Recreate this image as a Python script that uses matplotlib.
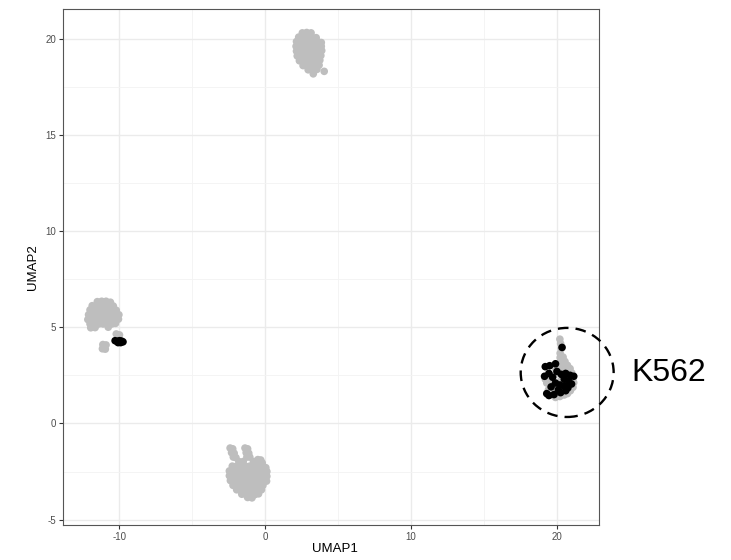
import matplotlib
matplotlib.use("Agg")
import matplotlib.pyplot as plt
from matplotlib.patches import Ellipse
from matplotlib.ticker import MultipleLocator

plt.rcParams['font.family'] = ['Liberation Sans', 'DejaVu Sans']
plt.rcParams['axes.unicode_minus'] = False

# ---- data ----
x_ticks = [-10, 0, 10, 20]
y_ticks = [-5, 0, 5, 10, 15, 20]
x_label = "UMAP1"
y_label = "UMAP2"
annot_label = "K562"

gray_top = [
    (2.55, 20.3), (2.85, 20.32), (3.15, 20.3),
    (2.3, 20.08), (2.6, 20.1), (2.9, 20.1), (3.2, 20.08), (3.5, 20.05),
    (2.15, 19.85), (2.45, 19.85), (2.75, 19.85), (3.05, 19.85), (3.35, 19.85), (3.65, 19.82), (3.85, 19.8),
    (2.12, 19.6), (2.35, 19.6), (2.65, 19.6), (2.95, 19.6), (3.25, 19.6), (3.55, 19.6), (3.85, 19.6),
    (2.15, 19.35), (2.45, 19.35), (2.75, 19.35), (3.05, 19.35), (3.35, 19.35), (3.65, 19.35), (3.88, 19.38),
    (2.2, 19.1), (2.4, 19.1), (2.7, 19.1), (3.0, 19.1), (3.3, 19.1), (3.6, 19.1), (3.82, 19.12),
    (2.35, 18.85), (2.6, 18.85), (2.9, 18.85), (3.2, 18.85), (3.5, 18.85), (3.75, 18.88),
    (2.6, 18.6), (2.85, 18.62), (3.15, 18.6), (3.45, 18.6), (3.7, 18.62),
    (2.95, 18.38), (3.25, 18.36), (3.55, 18.4),
    (3.3, 18.17),
    (4.05, 18.3),
]

gray_bottom = [
    (-2.4, -1.28), (-2.22, -1.32), (-2.3, -1.52), (-2.12, -1.55), (-2.18, -1.75), (-2.0, -1.78),
    (-1.38, -1.28), (-1.2, -1.32), (-1.3, -1.52), (-1.12, -1.55), (-1.25, -1.75), (-1.05, -1.75),
    (-0.5, -1.88), (-0.3, -1.9),
    (-1.8, -1.98), (-1.5, -1.98), (-0.8, -1.98), (-0.5, -2.05), (-0.2, -2.05),
    (-2.25, -2.22), (-1.95, -2.22), (-1.65, -2.22), (-1.35, -2.22), (-1.05, -2.22), (-0.75, -2.22), (-0.45, -2.25), (-0.15, -2.25), (0.05, -2.3),
    (-2.45, -2.47), (-2.2, -2.47), (-1.9, -2.47), (-1.6, -2.47), (-1.3, -2.47), (-1.0, -2.47), (-0.7, -2.47), (-0.4, -2.47), (-0.1, -2.47), (0.12, -2.5),
    (-2.45, -2.72), (-2.15, -2.72), (-1.85, -2.72), (-1.55, -2.72), (-1.25, -2.72), (-0.95, -2.72), (-0.65, -2.72), (-0.35, -2.72), (-0.05, -2.72), (0.12, -2.75),
    (-2.38, -2.97), (-2.1, -2.97), (-1.8, -2.97), (-1.5, -2.97), (-1.2, -2.97), (-0.9, -2.97), (-0.6, -2.97), (-0.3, -2.97), (0.0, -2.97), (0.1, -3.0),
    (-2.2, -3.22), (-1.95, -3.22), (-1.65, -3.22), (-1.35, -3.22), (-1.05, -3.22), (-0.75, -3.22), (-0.45, -3.22), (-0.15, -3.22),
    (-1.95, -3.45), (-1.7, -3.47), (-1.4, -3.47), (-1.1, -3.47), (-0.8, -3.47), (-0.5, -3.47), (-0.25, -3.45),
    (-1.6, -3.68), (-1.3, -3.7), (-1.0, -3.7), (-0.7, -3.7), (-0.45, -3.66),
    (-1.2, -3.85), (-0.9, -3.87),
]

gray_left = [
    (-11.5, 6.33), (-11.2, 6.35), (-10.9, 6.35), (-10.6, 6.3),
    (-11.85, 6.12), (-11.55, 6.12), (-11.25, 6.12), (-10.95, 6.12), (-10.65, 6.12), (-10.4, 6.1),
    (-12.0, 5.9), (-11.7, 5.9), (-11.4, 5.9), (-11.1, 5.9), (-10.8, 5.9), (-10.5, 5.9), (-10.2, 5.88),
    (-12.1, 5.65), (-11.8, 5.65), (-11.5, 5.65), (-11.2, 5.65), (-10.9, 5.65), (-10.6, 5.65), (-10.3, 5.65), (-10.02, 5.65),
    (-12.15, 5.4), (-11.85, 5.4), (-11.55, 5.4), (-11.25, 5.4), (-10.95, 5.4), (-10.65, 5.4), (-10.35, 5.4), (-10.05, 5.42),
    (-12.0, 5.17), (-11.7, 5.17), (-11.4, 5.17), (-11.1, 5.17), (-10.8, 5.17), (-10.5, 5.17), (-10.25, 5.2),
    (-11.95, 4.97), (-11.65, 4.98), (-10.75, 5.0),
    (-10.2, 4.65), (-9.98, 4.6),
    (-11.12, 4.1), (-10.9, 4.08), (-11.15, 3.88), (-10.95, 3.86),
]

gray_right = [
    (20.2, 4.38), (20.25, 4.15), (20.3, 3.9), (20.22, 3.65), (20.42, 3.45), (20.22, 3.42), (20.55, 3.22), (20.35, 3.2),
    (20.72, 3.02), (20.9, 2.85), (21.02, 2.62), (21.12, 2.38), (21.15, 2.12), (21.1, 1.88), (20.92, 1.7), (20.72, 1.55),
    (20.5, 1.48), (20.2, 1.4), (19.9, 1.35), (19.62, 1.5), (19.42, 1.75), (19.3, 2.1), (19.2, 2.3), (19.5, 2.25),
    (19.8, 2.5), (20.4, 2.9), (20.1, 3.0), (19.9, 2.85), (20.6, 2.0), (20.3, 2.25), (20.0, 1.95), (19.7, 1.8),
    (20.4, 1.7), (20.85, 2.3),
]

black_left = [
    (-10.28, 4.3), (-10.13, 4.26), (-9.98, 4.3), (-9.84, 4.28), (-9.74, 4.24), (-10.08, 4.2), (-9.9, 4.2),
]

black_right = [
    (20.35, 3.95),
    (19.2, 2.95), (19.5, 3.0), (19.9, 3.1), (19.45, 2.6), (19.15, 2.45), (19.7, 2.4), (20.0, 2.7),
    (20.3, 2.55), (20.6, 2.6), (20.9, 2.5), (21.15, 2.45), (20.5, 2.3), (20.8, 2.2), (21.0, 2.05),
    (19.9, 2.1), (20.2, 2.0), (20.5, 1.95), (19.6, 1.9), (20.1, 1.75), (20.6, 1.7), (19.3, 1.55),
    (19.8, 1.5), (20.25, 1.6), (20.75, 1.85), (19.45, 1.45),
]

# ---- figure ----
fig = plt.figure(figsize=(7.31, 5.60), dpi=100)
ax = fig.add_axes([0.0866, 0.0625, 0.8198 - 0.0866, 0.9839 - 0.0625])

gray = "#BEBEBE"
for pts in (gray_top, gray_bottom, gray_left, gray_right):
    ax.scatter([p[0] for p in pts], [p[1] for p in pts], s=30, c=gray,
               edgecolors="none", zorder=3)
for pts in (black_left, black_right):
    ax.scatter([p[0] for p in pts], [p[1] for p in pts], s=30, c="black",
               edgecolors="none", zorder=4)

ax.set_xlim(-13.83, 22.9)
ax.set_ylim(-5.28, 21.54)
ax.set_xticks(x_ticks)
ax.set_yticks(y_ticks)
ax.xaxis.set_minor_locator(MultipleLocator(5))
ax.yaxis.set_minor_locator(MultipleLocator(2.5))
ax.grid(which="major", color="#EBEBEB", linewidth=1.0, zorder=0)
ax.grid(which="minor", color="#F3F3F3", linewidth=0.6, zorder=0)
ax.set_axisbelow(True)
for sp in ax.spines.values():
    sp.set_color("#555555")
    sp.set_linewidth(0.8)
ax.tick_params(which="major", length=3, width=0.8, color="#333333",
               labelsize=7, labelcolor="#4D4D4D", pad=2)
ax.tick_params(which="minor", length=0)

fig.text(335 / 731, 1 - 549 / 560, x_label, ha="center", va="center", fontsize=9.5)
fig.text(33 / 731, 1 - 267 / 560, y_label, ha="center", va="center",
         fontsize=9.5, rotation=90)

circle = Ellipse((20.7, 2.65), width=6.37, height=4.63, fill=False,
                 edgecolor="black", linewidth=1.7, linestyle=(0, (4.5, 3)),
                 clip_on=False, zorder=5)
ax.add_patch(circle)

fig.text(631 / 731, 1 - 381 / 560, annot_label, ha="left", va="baseline",
         fontsize=23, color="black")

fig.savefig("out.png", dpi=100)
